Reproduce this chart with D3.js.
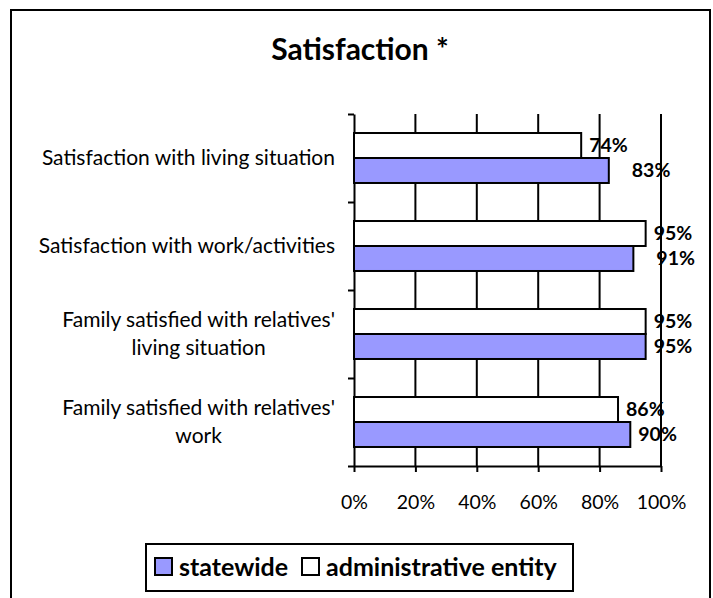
<!DOCTYPE html>
<html>
<head>
<meta charset="utf-8">
<script src="https://cdn.jsdelivr.net/npm/d3@7"></script>
<style>
  body { margin: 0; background: #fff; }
  text { font-family: Lato, "Open Sans", sans-serif; fill: #000; }
</style>
</head>
<body>
<div id="chart"></div>
<script>
// ---------------------------------------------------------------------------
// DATA
// ---------------------------------------------------------------------------
const categories = [
  "Satisfaction with living situation",
  "Satisfaction with work/activities",
  "Family satisfied with relatives' living situation",
  "Family satisfied with relatives' work"
];
// wrapped label lines, same order as categories
const categoryLines = [
  ["Satisfaction with living situation"],
  ["Satisfaction with work/activities"],
  ["Family satisfied with relatives'", "living situation"],
  ["Family satisfied with relatives'", "work"]
];
const seriesNames = ["administrative entity", "statewide"];
const adminValues = [0.74, 0.95, 0.95, 0.86];
const statewideValues = [0.83, 0.91, 0.95, 0.90];
const xTicks = [0, 0.2, 0.4, 0.6, 0.8, 1.0];

const seriesColor = {
  "statewide": "#9999ff",
  "administrative entity": "#ffffff"
};

// label nudges (px) where the original labels were pushed right
const labelNudge = {
  "statewide": [15, 15, 0, 0],
  "administrative entity": [0, 0, 0, 0]
};

// ---------------------------------------------------------------------------
// SVG setup
// ---------------------------------------------------------------------------
const W = 713, H = 598;
const svg = d3.select("#chart").append("svg")
  .attr("width", W)
  .attr("height", H);

// outer chart border
svg.append("rect")
  .attr("x", 11).attr("y", 10)
  .attr("width", 699).attr("height", 600)
  .attr("fill", "#fff")
  .attr("stroke", "#000")
  .attr("stroke-width", 2);

// title
svg.append("text")
  .attr("x", 360).attr("y", 60)
  .attr("text-anchor", "middle")
  .style("font-size", "30px")
  .style("font-weight", "bold")
  .text("Satisfaction *");

const plot = { left: 354, right: 661, top: 114, bottom: 466 };

const x = d3.scaleLinear().domain([0, 1]).range([plot.left, plot.right]);

const y = d3.scaleBand()
  .domain(categories)
  .range([plot.top, plot.bottom])
  .paddingInner(0.432)
  .paddingOuter(0.216);

const ySeries = d3.scaleBand()
  .domain(seriesNames)
  .range([0, y.bandwidth()]);

const yIdx = d3.scaleLinear().domain([0, categories.length]).range([plot.top, plot.bottom]);

// gridlines
svg.append("g")
  .selectAll("line")
  .data(xTicks.slice(1))
  .join("line")
  .attr("x1", d => x(d)).attr("x2", d => x(d))
  .attr("y1", plot.top).attr("y2", plot.bottom)
  .attr("stroke", "#000")
  .attr("stroke-width", 2);

// x axis
const xAxis = svg.append("g")
  .attr("transform", `translate(0,${plot.bottom})`)
  .call(d3.axisBottom(x)
    .tickValues(xTicks)
    .tickFormat(d3.format(".0%"))
    .tickSize(6)
    .tickSizeOuter(0)
    .tickPadding(23));
xAxis.select(".domain").attr("stroke", "#000").attr("stroke-width", 2);
xAxis.selectAll(".tick line").attr("stroke", "#000").attr("stroke-width", 2);
xAxis.selectAll(".tick text")
  .style("font-size", "19.5px")
  .style("font-family", "Lato, sans-serif")
  .attr("fill", "#000");

// y axis: ticks at category boundaries
const yAxis = svg.append("g")
  .attr("transform", `translate(${plot.left},0)`)
  .call(d3.axisLeft(yIdx)
    .tickValues(d3.range(categories.length + 1))
    .tickFormat("")
    .tickSize(6)
    .tickSizeOuter(0));
yAxis.select(".domain").attr("stroke", "#000").attr("stroke-width", 2);
yAxis.selectAll(".tick line").attr("stroke", "#000").attr("stroke-width", 2);

// ---------------------------------------------------------------------------
// BARS + LABELS
// ---------------------------------------------------------------------------
const rows = [];
categories.forEach((c, i) => {
  rows.push({ cat: c, i, series: "administrative entity", value: adminValues[i] });
  rows.push({ cat: c, i, series: "statewide", value: statewideValues[i] });
});

svg.append("g")
  .selectAll("rect")
  .data(rows)
  .join("rect")
  .attr("x", x(0))
  .attr("y", d => y(d.cat) + ySeries(d.series))
  .attr("width", d => x(d.value) - x(0))
  .attr("height", ySeries.bandwidth())
  .attr("fill", d => seriesColor[d.series])
  .attr("stroke", "#000")
  .attr("stroke-width", 2);

svg.append("g")
  .selectAll("text")
  .data(rows)
  .join("text")
  .attr("x", d => x(d.value) + 8 + labelNudge[d.series][d.i])
  .attr("y", d => y(d.cat) + ySeries(d.series) + ySeries.bandwidth() / 2)
  .attr("dy", "0.35em")
  .style("font-size", "19.5px")
  .style("font-weight", "bold")
  .text(d => d3.format(".0%")(d.value));

// category labels (block right-aligned, lines centred to each other)
const labelRight = 335;
const lineGap = 28;
categories.forEach((c, i) => {
  const lines = categoryLines[i];
  const cy = y(c) + y.bandwidth() / 2;
  const g = svg.append("g");
  const texts = g.selectAll("text")
    .data(lines)
    .join("text")
    .attr("y", (d, k) => cy + (k - (lines.length - 1) / 2) * lineGap)
    .attr("dy", "0.35em")
    .attr("text-anchor", "middle")
    .style("font-size", "21px")
    .text(d => d);
  const maxW = d3.max(texts.nodes(), n => n.getComputedTextLength());
  texts.attr("x", labelRight - maxW / 2);
});

// ---------------------------------------------------------------------------
// LEGEND
// ---------------------------------------------------------------------------
const legend = svg.append("g");
legend.append("rect")
  .attr("x", 146).attr("y", 544)
  .attr("width", 427).attr("height", 47)
  .attr("fill", "#fff")
  .attr("stroke", "#000")
  .attr("stroke-width", 2);

const legendItems = [
  { name: "statewide", x: 155 },
  { name: "administrative entity", x: 302 }
];
legendItems.forEach(it => {
  legend.append("rect")
    .attr("x", it.x).attr("y", 558)
    .attr("width", 17).attr("height", 17)
    .attr("fill", seriesColor[it.name])
    .attr("stroke", "#000")
    .attr("stroke-width", 2);
  legend.append("text")
    .attr("x", it.x + 24).attr("y", 567)
    .attr("dy", "0.35em")
    .style("font-size", "25px")
    .style("font-weight", "bold")
    .text(it.name);
});
</script>
</body>
</html>
